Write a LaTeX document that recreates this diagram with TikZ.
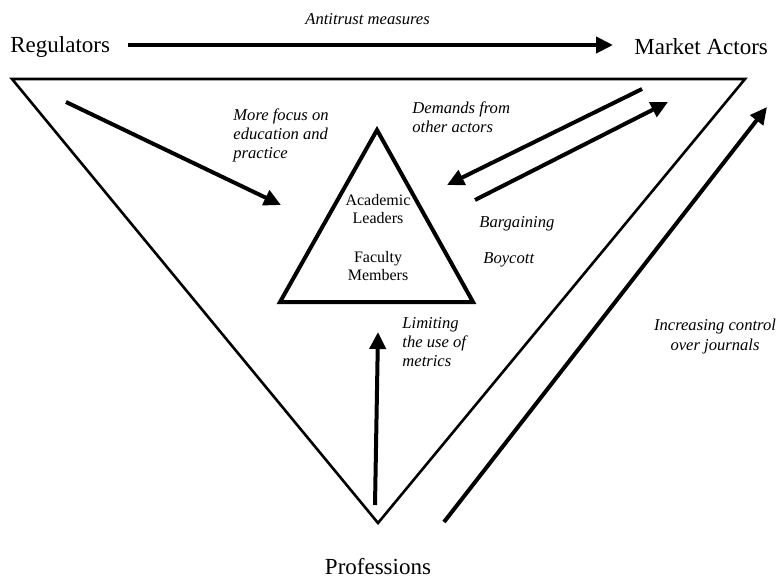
\documentclass[tikz,border=0pt]{standalone}
\usepackage{fontspec}
\setmainfont{Liberation Serif}
\usetikzlibrary{arrows.meta,positioning}
\tikzset{
  actor/.style={inner sep=0pt,font=\fontsize{11.5}{13}\selectfont},
  group/.style={inner sep=0pt,align=center,font=\fontsize{8}{9}\selectfont},
  measure/.style={inner sep=0pt,font=\fontsize{8.3}{9.6}\selectfont\itshape},
  field/.style={line width=1.3pt,line join=miter},
  core/.style={line width=2pt,line join=miter},
  flow/.style={-{Triangle[length=8.5pt,width=8pt]},line width=2pt}
}

\begin{document}
\begin{tikzpicture}[x=0.5pt,y=-0.5pt]
\useasboundingbox (0,0) rectangle (779,578);
% actors
\node[actor, anchor=base west] (regulators) at (10,52) {Regulators};
\node[actor, anchor=base west] (market) at (634,54) {Market Actors};
\node[actor, anchor=base] (professions) at (378,574) {Professions};
% outer field and the academic core
\draw[field] (12,79) -- (745,79) -- (378,523) -- cycle;
\draw[core] (377,130) -- (473,302) -- (280,302) -- cycle;
\node[group, anchor=north] (leaders) at (378,194) {Academic\\Leaders};
\node[group, anchor=north] (faculty) at (378,251) {Faculty\\Members};
% arrow ends
\coordinate (antitrustA) at (128,45);
\coordinate (antitrustB) at (613,45);
\coordinate (focusA) at (66,102);
\coordinate (focusB) at (281,205);
\coordinate (demandA) at (642,89);
\coordinate (demandB) at (447,185);
\coordinate (bargainA) at (475,200);
\coordinate (bargainB) at (668,102);
\coordinate (metricsA) at (375,505);
\coordinate (metricsB) at (378,332);
\coordinate (journalA) at (444,522);
\coordinate (journalB) at (767,107);
\draw[flow] (antitrustA) -- (antitrustB);
\draw[flow] (focusA) -- (focusB);
\draw[flow] (demandA) -- (demandB);
\draw[flow] (bargainA) -- (bargainB);
\draw[flow] (metricsA) -- (metricsB);
\draw[flow] (journalA) -- (journalB);
% measures
\node[measure, anchor=base west] (antitrust) at (305,25) {Antitrust measures};
\node[measure, anchor=north west, align=left] (focus) at (233,108)
  {More focus on\\education and\\practice};
\node[measure, anchor=north west, align=left] (demands) at (412,101)
  {Demands from\\other actors};
\node[measure, anchor=base west] (bargaining) at (479,227) {Bargaining};
\node[measure, anchor=base west] (boycott) at (483,263) {Boycott};
\node[measure, anchor=north west, align=left] (metrics) at (402,317)
  {Limiting\\the use of\\metrics};
\node[measure, anchor=north, align=center] (journals) at (715,319)
  {Increasing control\\over journals};
\end{tikzpicture}
\end{document}
